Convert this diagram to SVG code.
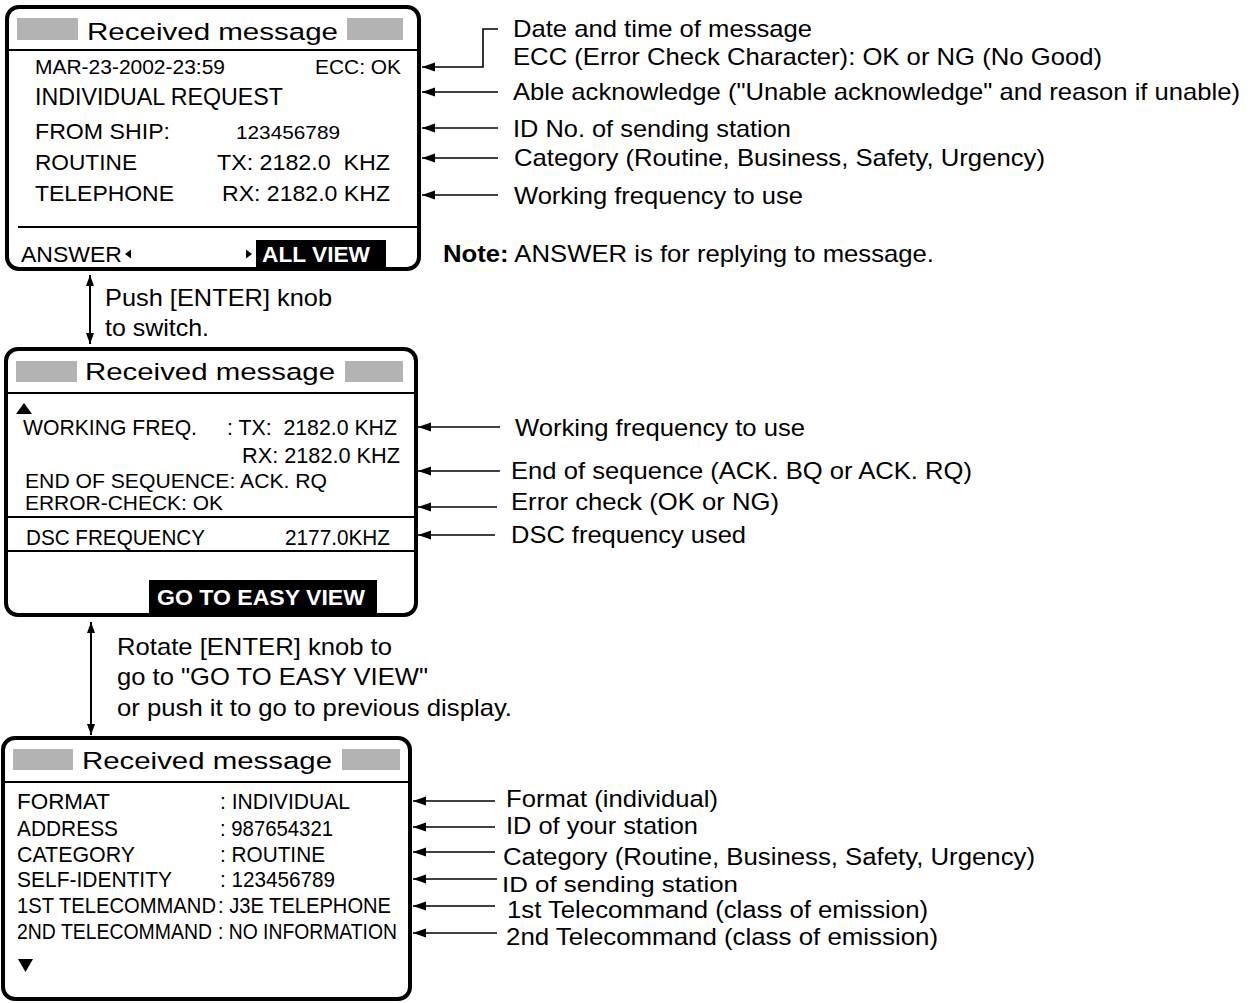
<svg xmlns="http://www.w3.org/2000/svg" width="1251" height="1003" viewBox="0 0 1251 1003">
<style>
text{font-family:"Liberation Sans",Arial,sans-serif;fill:#000}
.t{font-size:24.5px}
.a{font-size:24px}
.r{font-size:22px}
.s{font-size:20px}
.b{font-weight:bold;fill:#fff}
.frame{fill:#fff;stroke:#000;stroke-width:4}
.sep{stroke:#000;stroke-width:2;fill:none}
.gray{fill:#b3b3b3}
.ln{stroke:#000;stroke-width:1.6;fill:none}
.dl{stroke:#000;stroke-width:2;fill:none}
</style>
<defs>
<marker id="ah" markerUnits="userSpaceOnUse" markerWidth="14" markerHeight="10" refX="13" refY="4.5" orient="auto-start-reverse">
<path d="M0,0 L13,4.5 L0,9 z" fill="#000"/>
</marker>
<marker id="vh" markerUnits="userSpaceOnUse" markerWidth="12" markerHeight="10" refX="11" refY="4" orient="auto-start-reverse">
<path d="M0,0 L11,4 L0,8 z" fill="#000"/>
</marker>
</defs>
<rect width="1251" height="1003" fill="#fff"/>

<g id="panel1">
<rect class="frame" x="7" y="7" width="412" height="262" rx="12"/>
<rect class="gray" x="17" y="18" width="61" height="22"/>
<rect class="gray" x="347" y="18" width="56" height="22"/>
<text class="t" x="87" y="39.5" textLength="251" lengthAdjust="spacingAndGlyphs">Received message</text>
<line class="sep" x1="7" y1="50" x2="419" y2="50"/>
<text class="s" x="35" y="74" textLength="190" lengthAdjust="spacingAndGlyphs">MAR-23-2002-23:59</text>
<text class="s" x="315" y="74" textLength="86" lengthAdjust="spacingAndGlyphs">ECC: OK</text>
<text class="a" style="font-size:23.5px" x="35" y="105" textLength="248" lengthAdjust="spacingAndGlyphs">INDIVIDUAL REQUEST</text>
<text class="r" x="35" y="139" textLength="135" lengthAdjust="spacingAndGlyphs">FROM SHIP:</text>
<text class="s" style="font-size:19px" x="236" y="139" textLength="104" lengthAdjust="spacingAndGlyphs">123456789</text>
<text class="r" x="35" y="170" textLength="102" lengthAdjust="spacingAndGlyphs">ROUTINE</text>
<text class="r" x="217" y="170" textLength="173" lengthAdjust="spacingAndGlyphs">TX: 2182.0&#160; KHZ</text>
<text class="r" x="35" y="201" textLength="139" lengthAdjust="spacingAndGlyphs">TELEPHONE</text>
<text class="r" x="222" y="201" textLength="168" lengthAdjust="spacingAndGlyphs">RX: 2182.0 KHZ</text>
<line class="sep" x1="18" y1="227" x2="417" y2="227"/>
<text class="r" style="font-size:22.5px" x="21" y="262" textLength="101" lengthAdjust="spacingAndGlyphs">ANSWER</text>
<path d="M131,249.5 L125,254 L131,258.5 z" fill="#000"/>
<path d="M246,249.5 L252,254 L246,258.5 z" fill="#000"/>
<rect x="256" y="240" width="130" height="27" fill="#000"/>
<text class="r b" style="font-size:22.5px" x="262" y="262" textLength="108" lengthAdjust="spacingAndGlyphs">ALL VIEW</text>
</g>

<g id="panel2">
<rect class="frame" x="6" y="349" width="410" height="266" rx="12"/>
<rect class="gray" x="16" y="361" width="61" height="21"/>
<rect class="gray" x="345" y="361" width="58" height="21"/>
<text class="t" x="85" y="380" textLength="250" lengthAdjust="spacingAndGlyphs">Received message</text>
<line class="sep" x1="6" y1="393" x2="416" y2="393"/>
<path d="M16,414 L24,403 L32,414 z" fill="#000"/>
<text class="r" x="23" y="435" textLength="174" lengthAdjust="spacingAndGlyphs">WORKING FREQ.</text>
<text class="r" x="227" y="435" textLength="170" lengthAdjust="spacingAndGlyphs">: TX:&#160; 2182.0 KHZ</text>
<text class="r" style="font-size:22.5px" x="242" y="463" textLength="158" lengthAdjust="spacingAndGlyphs">RX: 2182.0 KHZ</text>
<text class="r" style="font-size:20.5px" x="25" y="488" textLength="302" lengthAdjust="spacingAndGlyphs">END OF SEQUENCE: ACK. RQ</text>
<text class="r" style="font-size:20.5px" x="25" y="510" textLength="198" lengthAdjust="spacingAndGlyphs">ERROR-CHECK: OK</text>
<line class="sep" x1="6" y1="517" x2="416" y2="517"/>
<text class="r" x="26" y="545" textLength="179" lengthAdjust="spacingAndGlyphs">DSC FREQUENCY</text>
<text class="r" x="285" y="545" textLength="105" lengthAdjust="spacingAndGlyphs">2177.0KHZ</text>
<line class="sep" x1="6" y1="551" x2="418" y2="551"/>
<rect x="149" y="580" width="228" height="33" fill="#000"/>
<text class="r b" style="font-size:22.5px" x="157" y="605" textLength="208" lengthAdjust="spacingAndGlyphs">GO TO EASY VIEW</text>
</g>

<g id="panel3">
<rect class="frame" x="3" y="738" width="407" height="261" rx="12"/>
<rect class="gray" x="13" y="749" width="60" height="21"/>
<rect class="gray" x="342" y="749" width="58" height="21"/>
<text class="t" x="82" y="769" textLength="250" lengthAdjust="spacingAndGlyphs">Received message</text>
<line class="sep" x1="3" y1="782" x2="410" y2="782"/>
<text class="r" x="17" y="809" textLength="93" lengthAdjust="spacingAndGlyphs">FORMAT</text>
<text class="r" x="220" y="809" textLength="130" lengthAdjust="spacingAndGlyphs">: INDIVIDUAL</text>
<text class="r" x="17" y="836" textLength="101" lengthAdjust="spacingAndGlyphs">ADDRESS</text>
<text class="r" x="220" y="836" textLength="113" lengthAdjust="spacingAndGlyphs">: 987654321</text>
<text class="r" x="17" y="862" textLength="118" lengthAdjust="spacingAndGlyphs">CATEGORY</text>
<text class="r" x="220" y="862" textLength="105" lengthAdjust="spacingAndGlyphs">: ROUTINE</text>
<text class="r" x="17" y="887" textLength="155" lengthAdjust="spacingAndGlyphs">SELF-IDENTITY</text>
<text class="r" x="220" y="887" textLength="115" lengthAdjust="spacingAndGlyphs">: 123456789</text>
<text class="r" x="17" y="913" textLength="199" lengthAdjust="spacingAndGlyphs">1ST TELECOMMAND</text>
<text class="r" x="218" y="913" textLength="173" lengthAdjust="spacingAndGlyphs">: J3E TELEPHONE</text>
<text class="r" x="17" y="939" textLength="195" lengthAdjust="spacingAndGlyphs">2ND TELECOMMAND</text>
<text class="r" x="218" y="939" textLength="179" lengthAdjust="spacingAndGlyphs">: NO INFORMATION</text>
<path d="M18,959 L33,959 L25.5,972 z" fill="#000"/>
</g>

<g id="connectors">
<polyline class="ln" points="498,29 483,29 483,67 422,67" marker-end="url(#ah)"/>
<line class="ln" x1="498" y1="92" x2="422" y2="92" marker-end="url(#ah)"/>
<line class="ln" x1="498" y1="128" x2="422" y2="128" marker-end="url(#ah)"/>
<line class="ln" x1="498" y1="158" x2="422" y2="158" marker-end="url(#ah)"/>
<line class="ln" x1="498" y1="195" x2="422" y2="195" marker-end="url(#ah)"/>

<line class="dl" x1="90" y1="275" x2="90" y2="344" marker-start="url(#vh)" marker-end="url(#vh)"/>
<line class="ln" x1="500" y1="427" x2="418" y2="427" marker-end="url(#ah)"/>
<line class="ln" x1="500" y1="471" x2="418" y2="471" marker-end="url(#ah)"/>
<line class="ln" x1="497" y1="507" x2="418" y2="507" marker-end="url(#ah)"/>
<line class="ln" x1="495" y1="535" x2="418" y2="535" marker-end="url(#ah)"/>

<line class="dl" x1="91" y1="622" x2="91" y2="735" marker-start="url(#vh)" marker-end="url(#vh)"/>
<line class="ln" x1="495" y1="801" x2="413" y2="801" marker-end="url(#ah)"/>
<line class="ln" x1="495" y1="827" x2="413" y2="827" marker-end="url(#ah)"/>
<line class="ln" x1="495" y1="852" x2="413" y2="852" marker-end="url(#ah)"/>
<line class="ln" x1="497" y1="879" x2="413" y2="879" marker-end="url(#ah)"/>
<line class="ln" x1="495" y1="906" x2="413" y2="906" marker-end="url(#ah)"/>
<line class="ln" x1="497" y1="933" x2="413" y2="933" marker-end="url(#ah)"/>
</g>

<g id="labels">
<text class="a" x="513" y="37" textLength="299" lengthAdjust="spacingAndGlyphs">Date and time of message</text>
<text class="a" x="513" y="65" textLength="589" lengthAdjust="spacingAndGlyphs">ECC (Error Check Character): OK or NG (No Good)</text>
<text class="a" x="513" y="100" textLength="727" lengthAdjust="spacingAndGlyphs">Able acknowledge ("Unable acknowledge" and reason if unable)</text>
<text class="a" x="513" y="137" textLength="278" lengthAdjust="spacingAndGlyphs">ID No. of sending station</text>
<text class="a" x="514" y="166" textLength="531" lengthAdjust="spacingAndGlyphs">Category (Routine, Business, Safety, Urgency)</text>
<text class="a" x="514" y="204" textLength="289" lengthAdjust="spacingAndGlyphs">Working frequency to use</text>
<text class="a" x="443" y="262" textLength="491" lengthAdjust="spacingAndGlyphs"><tspan font-weight="bold">Note:</tspan> ANSWER is for replying to message.</text>

<text class="a" x="105" y="306" textLength="227" lengthAdjust="spacingAndGlyphs">Push [ENTER] knob</text>
<text class="a" x="105" y="336" textLength="104" lengthAdjust="spacingAndGlyphs">to switch.</text>

<text class="a" x="515" y="436" textLength="290" lengthAdjust="spacingAndGlyphs">Working frequency to use</text>
<text class="a" x="511" y="479" textLength="461" lengthAdjust="spacingAndGlyphs">End of sequence (ACK. BQ or ACK. RQ)</text>
<text class="a" x="511" y="510" textLength="268" lengthAdjust="spacingAndGlyphs">Error check (OK or NG)</text>
<text class="a" x="511" y="543" textLength="235" lengthAdjust="spacingAndGlyphs">DSC frequency used</text>

<text class="a" x="117" y="655" textLength="275" lengthAdjust="spacingAndGlyphs">Rotate [ENTER] knob to</text>
<text class="a" x="117" y="685" textLength="311" lengthAdjust="spacingAndGlyphs">go to "GO TO EASY VIEW"</text>
<text class="a" x="117" y="716" textLength="395" lengthAdjust="spacingAndGlyphs">or push it to go to previous display.</text>

<text class="a" x="506" y="807" textLength="212" lengthAdjust="spacingAndGlyphs">Format (individual)</text>
<text class="a" x="506" y="834" textLength="192" lengthAdjust="spacingAndGlyphs">ID of your station</text>
<text class="a" style="font-size:23px" x="503" y="865" textLength="532" lengthAdjust="spacingAndGlyphs">Category (Routine, Business, Safety, Urgency)</text>
<text class="a" style="font-size:22.5px" x="502" y="892" textLength="236" lengthAdjust="spacingAndGlyphs">ID of sending station</text>
<text class="a" style="font-size:23.5px" x="507" y="918" textLength="421" lengthAdjust="spacingAndGlyphs">1st Telecommand (class of emission)</text>
<text class="a" x="506" y="945" textLength="432" lengthAdjust="spacingAndGlyphs">2nd Telecommand (class of emission)</text>
</g>
</svg>
